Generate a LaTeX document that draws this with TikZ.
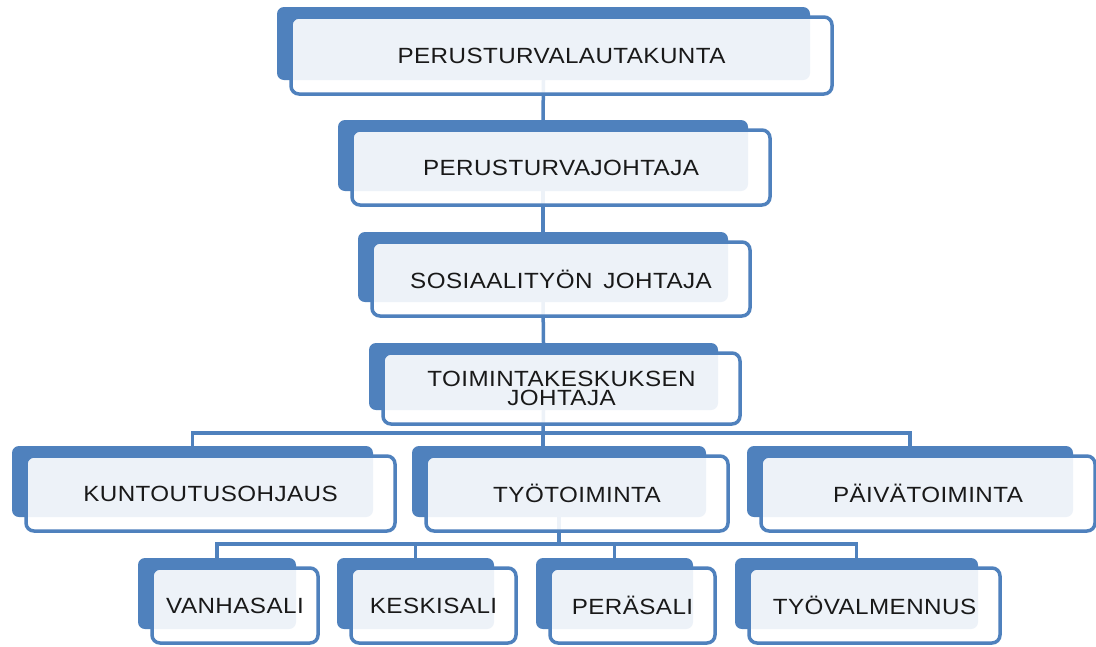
\documentclass[tikz,border=0pt]{standalone}
\usepackage{fontspec}
\newfontfamily\boxfont[FakeStretch=1.1,LetterSpace=2]{Liberation Sans}
\usetikzlibrary{backgrounds}
\definecolor{obl}{HTML}{4F81BD}
\tikzset{
  backbox/.style={fill=obl, rounded corners=7pt, inner sep=0pt, draw=none},
  frontbox/.style={draw=obl, line width=3.5pt, fill=white, fill opacity=0.9, text opacity=1,
    rounded corners=8pt, inner sep=0pt, align=center, text=black!90,
    font=\boxfont\fontsize{22}{19.5}\selectfont},
  conn/.style={draw=obl, line width=3.5pt},
}
\newcommand\orgbox[6]{%
  \node[backbox, minimum width={#4-#2}, minimum height={#5-#3}] (b#1) at ({(#2+#4)/2},{(#3+#5)/2}) {};
  \node[frontbox, minimum width={#4-#2+8}, minimum height={#5-#3+4}] (f#1) at ({(#2+#4)/2+18},{(#3+#5)/2+12}) {#6};
}
\begin{document}
\begin{tikzpicture}[x=1pt,y=-1pt]
\useasboundingbox (0,0) rectangle (1096,646);
\orgbox{1}{277}{7}{810}{80}{PERUSTURVALAUTAKUNTA}
\orgbox{2}{338}{120}{748}{191}{PERUSTURVAJOHTAJA}
\orgbox{3}{358}{232}{728}{302}{SOSIAALITYÖN\, JOHTAJA}
\orgbox{4}{369}{343}{718}{410}{TOIMINTAKESKUKSEN\\JOHTAJA}
\orgbox{k}{12}{446}{373}{517}{KUNTOUTUSOHJAUS}
\orgbox{t}{412}{446}{706}{517}{TYÖTOIMINTA}
\orgbox{p}{747}{446}{1073}{517}{PÄIVÄTOIMINTA}
\orgbox{v}{138}{558}{296}{629}{VANHASALI}
\orgbox{ke}{337}{558}{494}{629}{KESKISALI}
\orgbox{pe}{536}{558}{693}{629}{PERÄSALI}
\orgbox{ty}{735}{558}{978}{629}{TYÖVALMENNUS}
\coordinate (j1) at (543,433);
\coordinate (j2) at (559,544);
\begin{pgfonlayer}{background}
\fill[white] (0,0) rectangle (1096,646);
\draw[conn] (b1.south) -- (b2.north);
\draw[conn] (b2.south) -- (b3.north);
\draw[conn] (b3.south) -- (b4.north);
\draw[conn] (b4.south) -- (j1);
\draw[conn] (j1) -| (bk.north);
\draw[conn] (j1) -| (bp.north);
\draw[conn] (j1) -- (j1 |- bt.north);
\draw[conn] (bt.south -| j2) -- (j2);
\draw[conn] (j2) -| (bv.north);
\draw[conn] (j2) -| (bke.north);
\draw[conn] (j2) -| (bpe.north);
\draw[conn] (j2) -| (bty.north);
\end{pgfonlayer}
\end{tikzpicture}
\end{document}
